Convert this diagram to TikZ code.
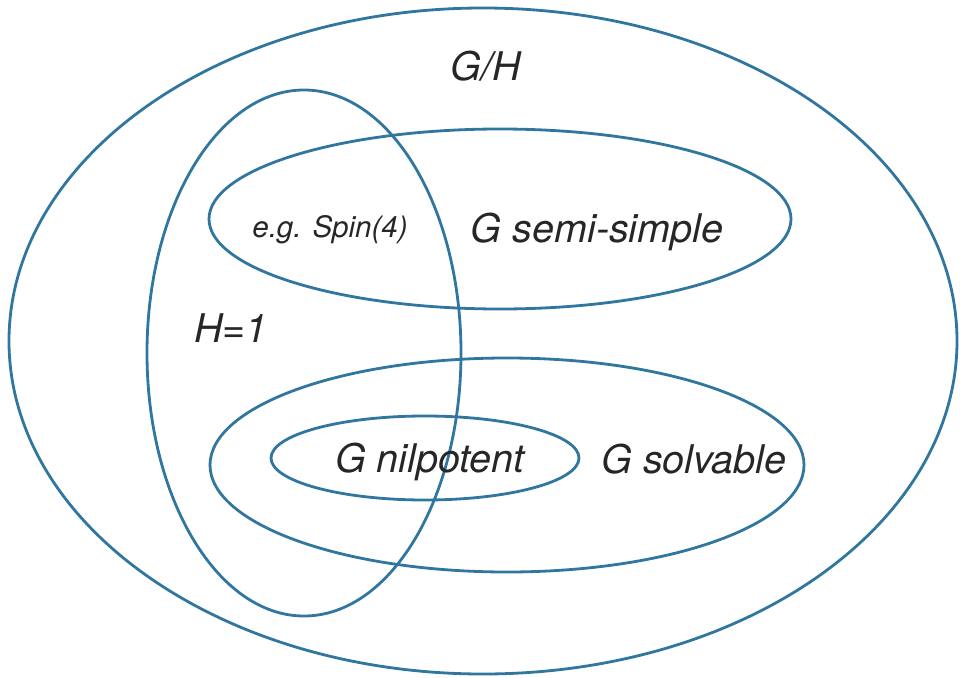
\documentclass[tikz,border=0pt]{standalone}
\usepackage{fontspec}
\setmainfont{TeX Gyre Heros}
\definecolor{setblue}{RGB}{48,118,158}

\begin{document}
\begin{tikzpicture}[
    x=1pt, y=-1pt,
    setline/.style={draw=setblue, line width=2.8pt},
    setlabel/.style={anchor=base, font=\fontsize{39.5}{44}\selectfont\itshape, text=black!85},
    smalllabel/.style={anchor=base, font=\fontsize{29.5}{33}\selectfont\itshape, text=black!85}
]
\useasboundingbox (0,0) rectangle (960,677);

% sets
\draw[setline] (483,341) ellipse [x radius=474, y radius=333];   % G/H
\draw[setline] (304,353) ellipse [x radius=157, y radius=263];   % H=1
\draw[setline] (500,219) ellipse [x radius=291, y radius=90];    % semi-simple
\draw[setline] (507,465) ellipse [x radius=297, y radius=107];   % solvable
\draw[setline] (425,458) ellipse [x radius=154, y radius=42];    % nilpotent

% labels
\node[setlabel] (quot)   at (486,80)  {G/H};
\node[smalllabel] (spin) at (330,237) {e.g. Spin(4)};
\node[setlabel] (semi)   at (597,242) {G semi-simple};
\node[setlabel] (trivH)  at (231,342) {H=1};
\node[setlabel] (nilp)   at (430,472) {G nilpotent};
\node[setlabel] (solv)   at (694,473) {G solvable};
\end{tikzpicture}
\end{document}
